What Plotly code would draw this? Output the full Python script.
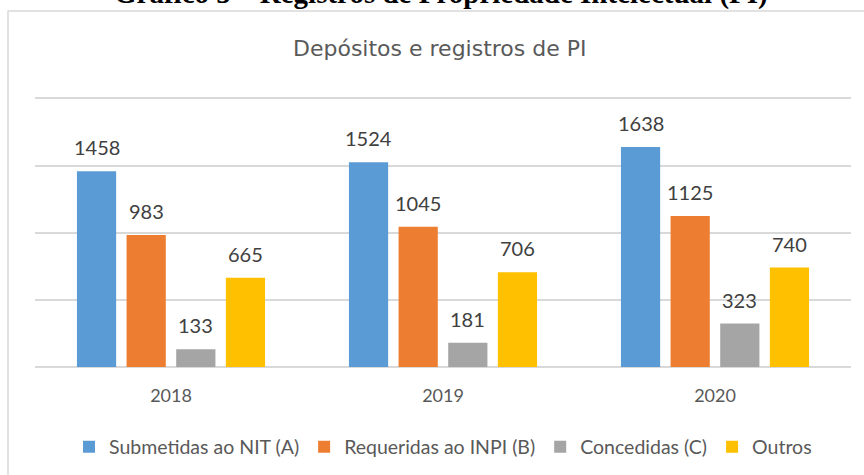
import plotly.graph_objects as go

years = ["2018", "2019", "2020"]
series_names = ["Submetidas ao NIT (A)", "Requeridas ao INPI (B)", "Concedidas (C)", "Outros"]
submetidas = [1458, 1524, 1638]
requeridas = [983, 1045, 1125]
concedidas = [133, 181, 323]
outros = [665, 706, 740]
colors = ["#5B9BD5", "#ED7D31", "#A5A5A5", "#FFC000"]

chart_title = "Depósitos e registros de PI"
header = "Gráfico 5 – Registros de Propriedade Intelectual (PI)"

W, H = 864, 475
ML, MR, MT, MB = 35, 13, 97, 108
BARGAP, BARGROUPGAP = 0.27, 0.21
FONT = "Lato"

values = [submetidas, requeridas, concedidas, outros]

fig = go.Figure()
for name, vals, col in zip(series_names, values, colors):
    fig.add_trace(go.Bar(x=years, y=vals, name=name, marker=dict(color=col, line=dict(width=0)),
                         hoverinfo="skip"))

# data labels above bars (x given as category index)
plot_w = W - ML - MR
cat_w = plot_w / len(years)
slot = cat_w * (1 - BARGAP) / len(values)
annotations = []
for i, vals in enumerate(values):
    off = (i - (len(values) - 1) / 2) * slot
    for j, v in enumerate(vals):
        annotations.append(dict(
            x=j, y=v, xref="x", yref="y", text=str(v), showarrow=False,
            xshift=off, yshift=24, yanchor="middle",
            font=dict(family=FONT, size=20, color="#404040"),
        ))

plot_h = H - MT - MB
def py(px):
    return (H - MB - px) / plot_h
def px_(p):
    return (p - ML) / plot_w

annotations.append(dict(
    x=px_(440), y=py(49), xref="paper", yref="paper", text=chart_title, showarrow=False,
    xanchor="center", yanchor="middle", font=dict(family="DejaVu Sans", size=22, color="#595959"),
))
annotations.append(dict(
    x=px_(112), y=py(12.5), xref="paper", yref="paper", text="<b>" + header + "</b>", showarrow=False,
    xanchor="left", yanchor="bottom", font=dict(family="Liberation Serif", size=29, color="#000000"),
))

fig.update_layout(
    width=W, height=H,
    margin=dict(l=ML, r=MR, t=MT, b=MB, pad=0, autoexpand=False),
    paper_bgcolor="white", plot_bgcolor="white",
    barmode="group", bargap=BARGAP, bargroupgap=BARGROUPGAP,
    showlegend=True,
    legend=dict(orientation="h", x=0.5, xanchor="center", y=py(447), yanchor="middle",
                font=dict(family=FONT, size=19.5, color="#595959"), traceorder="normal"),
    annotations=annotations,
    shapes=[dict(type="rect", xref="paper", yref="paper",
                 x0=px_(8), x1=px_(880), y0=py(490), y1=py(11),
                 line=dict(color="#D9D9D9", width=1.5), fillcolor="rgba(0,0,0,0)", layer="below")],
    xaxis=dict(type="category", showgrid=False, showline=False, zeroline=False, ticks="",
               ticklabelstandoff=16, automargin=False,
               tickfont=dict(family=FONT, size=18, color="#595959")),
    yaxis=dict(range=[0, 2010], dtick=500, tick0=0, showgrid=True, gridcolor="#D9D9D9", gridwidth=1.5,
               zeroline=True, zerolinecolor="#D9D9D9", zerolinewidth=1.5, showticklabels=False, ticks="",
               automargin=False),
)

fig.write_html("out.html", config={"displayModeBar": False},
               post_script="document.body.style.margin='0';document.body.style.overflow='hidden';")
